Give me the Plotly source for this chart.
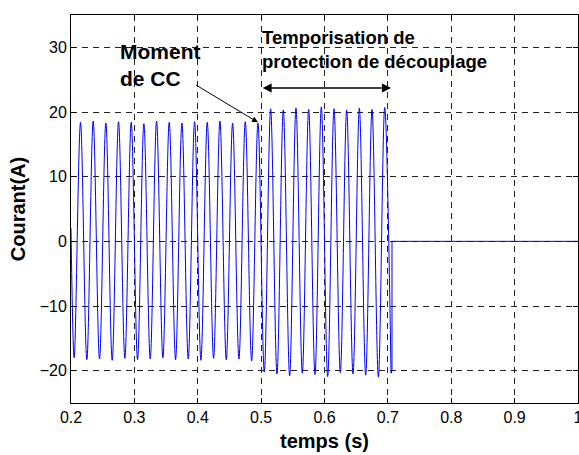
import plotly.graph_objects as go

# Extrema of the current waveform (time in s, current in A)
t_ext = [0.200,
         0.205, 0.215, 0.225, 0.235, 0.245, 0.255, 0.265, 0.275, 0.285, 0.295,
         0.305, 0.315, 0.325, 0.335, 0.345, 0.355, 0.365, 0.375, 0.385, 0.395,
         0.405, 0.415, 0.425, 0.435, 0.445, 0.455, 0.465, 0.475, 0.485, 0.495,
         0.505, 0.515, 0.525, 0.535, 0.545, 0.555, 0.565, 0.575, 0.585, 0.595,
         0.605, 0.615, 0.625, 0.635, 0.645, 0.655, 0.665, 0.675, 0.685, 0.695,
         0.705]
i_ext = [2.0,
         -18.0, 18.4, -18.3, 18.6, -18.2, 18.3, -18.4, 18.5, -18.1, 18.4,
         -18.3, 18.2, -18.2, 18.6, -18.0, 18.4, -18.3, 18.3, -18.2, 18.5,
         -18.4, 18.4, -18.1, 18.6, -18.3, 18.3, -18.2, 18.5, -18.5, 18.3,
         -20.2, 20.5, -20.5, 20.3, -20.8, 20.6, -20.4, 20.4, -20.6, 20.8,
         -20.9, 20.5, -20.3, 20.3, -20.5, 20.6, -20.7, 20.4, -21.0, 20.7,
         -20.4]

# Trip (découplage) segment: jump to zero then zero current
t_trip = [0.705, 0.7065, 0.7065, 1.0]
i_trip = [-20.4, -19.9, 0.0, 0.0]

x_ticks = [0.2, 0.3, 0.4, 0.5, 0.6, 0.7, 0.8, 0.9, 1.0]
x_labels = ["0.2", "0.3", "0.4", "0.5", "0.6", "0.7", "0.8", "0.9", "1"]
y_ticks = [-20, -10, 0, 10, 20, 30]

fig = go.Figure()
fig.add_trace(go.Scatter(x=t_ext, y=i_ext, mode="lines",
                         line=dict(color="#0000FF", width=1, shape="spline", smoothing=1.0),
                         showlegend=False))
fig.add_trace(go.Scatter(x=t_trip, y=i_trip, mode="lines",
                         line=dict(color="#0000FF", width=1),
                         showlegend=False))

font_family = "Liberation Sans, Arial, sans-serif"

axis_common = dict(
    showline=True, linecolor="black", linewidth=1, mirror="allticks",
    ticks="inside", ticklen=5, tickcolor="black",
    showgrid=True, gridcolor="#222222", griddash="6px,5px", gridwidth=1,
    zeroline=False, automargin=False, ticklabeloverflow="allow",
    tickfont=dict(family=font_family, size=16, color="black"),
)

fig.update_xaxes(range=[0.2, 1.0], tickvals=x_ticks, ticktext=x_labels,
                 title=dict(text="<b>temps (s)</b>", standoff=8,
                            font=dict(family=font_family, size=20, color="black")),
                 **axis_common)
fig.update_yaxes(range=[-25, 35], tickvals=y_ticks,
                 title=dict(text="<b>Courant(A)</b>", standoff=8,
                            font=dict(family=font_family, size=20, color="black")),
                 **axis_common)

# Annotations
fig.add_annotation(x=0.274, y=27.2, xref="x", yref="y", xanchor="left", yanchor="middle",
                   align="left", showarrow=False,
                   text="<b>Moment<br>de CC</b>",
                   font=dict(family=font_family, size=21, color="black"))
fig.add_annotation(x=0.495, y=18.4, xref="x", yref="y", ax=0.395, ay=24.3,
                   axref="x", ayref="y", text="", showarrow=True,
                   arrowhead=2, arrowsize=1.2, arrowwidth=1, arrowcolor="black")
fig.add_annotation(x=0.499, y=29.6, xref="x", yref="y", xanchor="left", yanchor="middle",
                   align="left", showarrow=False,
                   text="<b>Temporisation de<br>protection de découplage</b>",
                   font=dict(family=font_family, size=18.5, color="black"))
fig.add_annotation(x=0.705, y=23.7, xref="x", yref="y", ax=0.500, ay=23.7,
                   axref="x", ayref="y", text="", showarrow=True,
                   arrowhead=2, startarrowhead=2, arrowside="end+start",
                   arrowsize=1.2, startarrowsize=1.2, arrowwidth=1.5, arrowcolor="black")

fig.update_layout(width=579, height=455,
                  margin=dict(l=71, r=1, t=15, b=52),
                  paper_bgcolor="white", plot_bgcolor="white",
                  font=dict(family=font_family, color="black"))

fig.write_html("out.html", config={"displayModeBar": False},
               post_script="document.body.style.margin='0';document.body.style.padding='0';")
